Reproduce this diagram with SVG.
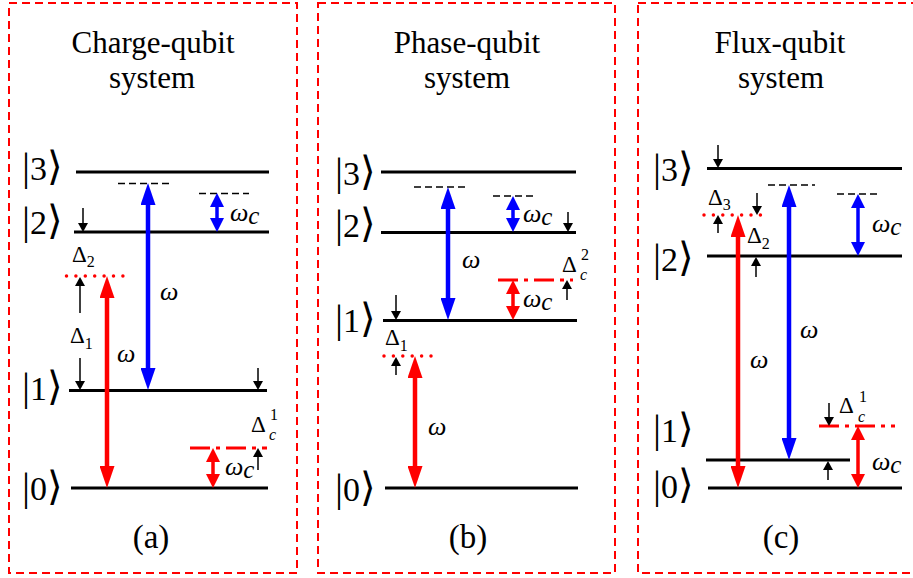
<svg xmlns="http://www.w3.org/2000/svg" width="913" height="578" viewBox="0 0 913 578">
<style>
.box{fill:none;stroke:#f00;stroke-width:2;stroke-dasharray:8 5}
.lvl{stroke:#000;stroke-width:3}
.vl{stroke:#000;stroke-width:1.5;stroke-dasharray:7 4}
.dot{stroke:#f00;stroke-width:3.5;stroke-dasharray:0 9.4;stroke-linecap:round}
.dd{stroke:#f00;stroke-width:3;stroke-dasharray:20 6 4 6}
.ab{stroke:#00f;stroke-width:4.5;marker-start:url(#hb);marker-end:url(#hb)}
.ar{stroke:#f00;stroke-width:4.5;marker-start:url(#hr);marker-end:url(#hr)}
.sb{stroke:#00f;stroke-width:3.5;marker-start:url(#sb);marker-end:url(#sb)}
.sr{stroke:#f00;stroke-width:3.5;marker-start:url(#sr);marker-end:url(#sr)}
.k{stroke:#000;stroke-width:1.5;marker-end:url(#hk)}
.t{font-size:31px;text-anchor:middle}
.pl{font-size:33px;text-anchor:middle}
.ket{font-size:34px}
.kb{font-size:40px}
.w{font-size:26px;font-style:italic}
.wc{font-size:25px;font-style:italic}
.d{font-size:23px}
.sub{font-size:16px}
.sc{font-size:16px;font-style:italic}
</style>
<defs>
<marker id="hb" markerUnits="userSpaceOnUse" markerWidth="22" markerHeight="15" refX="4" refY="7.5" orient="auto-start-reverse"><path d="M0,0 L22,7.5 L0,15 z" fill="#00f"/></marker>
<marker id="hr" markerUnits="userSpaceOnUse" markerWidth="22" markerHeight="15" refX="4" refY="7.5" orient="auto-start-reverse"><path d="M0,0 L22,7.5 L0,15 z" fill="#f00"/></marker>
<marker id="sb" markerUnits="userSpaceOnUse" markerWidth="14" markerHeight="14" refX="3" refY="7" orient="auto-start-reverse"><path d="M0,0 L14,7 L0,14 z" fill="#00f"/></marker>
<marker id="sr" markerUnits="userSpaceOnUse" markerWidth="14" markerHeight="14" refX="3" refY="7" orient="auto-start-reverse"><path d="M0,0 L14,7 L0,14 z" fill="#f00"/></marker>
<marker id="hk" markerUnits="userSpaceOnUse" markerWidth="9" markerHeight="10" refX="2" refY="5" orient="auto"><path d="M0,0 L9,5 L0,10 z" fill="#000"/></marker>
</defs>
<rect width="913" height="578" fill="#fff"/>
<g font-family="'Liberation Serif', 'Times New Roman', 'DejaVu Serif', serif" fill="#000">

<g id="panel-a">
<rect class="box" x="9" y="3" width="288" height="570"/>
<text class="t" x="153" y="53">Charge-qubit</text>
<text class="t" x="152" y="88">system</text>
<text class="pl" x="151" y="548">(a)</text>
<g id="a-level3"><line class="lvl" x1="76" y1="172" x2="269" y2="172"/><text class="ket" x="22" y="180"><tspan class="kb">|</tspan>3<tspan class="kb">⟩</tspan></text></g>
<g id="a-level2"><line class="lvl" x1="74" y1="232" x2="269" y2="232"/><text class="ket" x="22" y="234"><tspan class="kb">|</tspan>2<tspan class="kb">⟩</tspan></text></g>
<g id="a-level1"><line class="lvl" x1="69" y1="390.5" x2="267" y2="390.5"/><text class="ket" x="22" y="400"><tspan class="kb">|</tspan>1<tspan class="kb">⟩</tspan></text></g>
<g id="a-level0"><line class="lvl" x1="71" y1="488" x2="268" y2="488"/><text class="ket" x="22" y="500"><tspan class="kb">|</tspan>0<tspan class="kb">⟩</tspan></text></g>
<g id="a-virtual">
<line class="vl" x1="118" y1="183.5" x2="173" y2="183.5"/>
<line class="vl" x1="199" y1="193.5" x2="249" y2="193.5"/>
<line class="dot" x1="66.5" y1="276" x2="124" y2="276"/>
<line class="dd" x1="190" y1="448" x2="267" y2="448"/>
</g>
<g id="a-labels">
<text class="w" x="230" y="221">ω<tspan class="wc" dy="3">c</tspan></text>
<text class="w" x="225" y="475">ω<tspan class="wc" dy="3">c</tspan></text>
<text class="w" x="160" y="300">ω</text>
<text class="w" x="117" y="362">ω</text>
<text class="d" x="72" y="262">Δ<tspan class="sub" dy="5">2</tspan></text>
<text class="d" x="70" y="343">Δ<tspan class="sub" dy="6">1</tspan></text>
<text class="d" x="251" y="432">Δ</text><text class="sub" x="270" y="420">1</text><text class="sc" x="269" y="440">c</text>
</g>
</g>

<g id="panel-b">
<rect class="box" x="318" y="3" width="297" height="570"/>
<text class="t" x="467" y="53">Phase-qubit</text>
<text class="t" x="467" y="88">system</text>
<text class="pl" x="468" y="548">(b)</text>
<g id="b-level3"><line class="lvl" x1="381" y1="172" x2="576" y2="172"/><text class="ket" x="335" y="185"><tspan class="kb">|</tspan>3<tspan class="kb">⟩</tspan></text></g>
<g id="b-level2"><line class="lvl" x1="381" y1="232.5" x2="576" y2="232.5"/><text class="ket" x="335" y="237"><tspan class="kb">|</tspan>2<tspan class="kb">⟩</tspan></text></g>
<g id="b-level1"><line class="lvl" x1="383" y1="320.5" x2="577" y2="320.5"/><text class="ket" x="335" y="332"><tspan class="kb">|</tspan>1<tspan class="kb">⟩</tspan></text></g>
<g id="b-level0"><line class="lvl" x1="385" y1="488" x2="578" y2="488"/><text class="ket" x="335" y="501"><tspan class="kb">|</tspan>0<tspan class="kb">⟩</tspan></text></g>
<g id="b-virtual">
<line class="vl" x1="414" y1="187" x2="469" y2="187"/>
<line class="vl" x1="493" y1="196" x2="537" y2="196"/>
<line class="dd" x1="498" y1="280" x2="573" y2="280"/>
<line class="dot" x1="384" y1="356" x2="432" y2="356"/>
</g>
<g id="b-labels">
<text class="w" x="523" y="222">ω<tspan class="wc" dy="3">c</tspan></text>
<text class="w" x="523" y="307">ω<tspan class="wc" dy="3">c</tspan></text>
<text class="w" x="462" y="268">ω</text>
<text class="w" x="428" y="435">ω</text>
<text class="d" x="562" y="272">Δ</text><text class="sub" x="581" y="260">2</text><text class="sc" x="580" y="280">c</text>
<text class="d" x="385" y="345">Δ<tspan class="sub" dy="6">1</tspan></text>
</g>
</g>

<g id="panel-c">
<rect class="box" x="638" y="3" width="280" height="570"/>
<text class="t" x="780" y="53">Flux-qubit</text>
<text class="t" x="781" y="88">system</text>
<text class="pl" x="781" y="548">(c)</text>
<g id="c-level3"><line class="lvl" x1="707" y1="168.5" x2="902" y2="168.5"/><text class="ket" x="653" y="181"><tspan class="kb">|</tspan>3<tspan class="kb">⟩</tspan></text></g>
<g id="c-level2"><line class="lvl" x1="707" y1="256" x2="902" y2="256"/><text class="ket" x="653" y="271"><tspan class="kb">|</tspan>2<tspan class="kb">⟩</tspan></text></g>
<g id="c-level1"><line class="lvl" x1="706" y1="460" x2="850" y2="460"/><text class="ket" x="653" y="442"><tspan class="kb">|</tspan>1<tspan class="kb">⟩</tspan></text></g>
<g id="c-level0"><line class="lvl" x1="708" y1="488" x2="902" y2="488"/><text class="ket" x="653" y="498"><tspan class="kb">|</tspan>0<tspan class="kb">⟩</tspan></text></g>
<g id="c-virtual">
<line class="vl" x1="768" y1="185" x2="815" y2="185"/>
<line class="vl" x1="837" y1="194" x2="880" y2="194"/>
<line class="dot" x1="704" y1="215" x2="762" y2="215"/>
<line class="dd" x1="819" y1="426" x2="895" y2="426"/>
</g>
<g id="c-labels">
<text class="w" x="872" y="232">ω<tspan class="wc" dy="3">c</tspan></text>
<text class="w" x="872" y="470">ω<tspan class="wc" dy="3">c</tspan></text>
<text class="w" x="800" y="338">ω</text>
<text class="w" x="750" y="368">ω</text>
<text class="d" x="708" y="205">Δ<tspan class="sub" dy="5">3</tspan></text>
<text class="d" x="747" y="243">Δ<tspan class="sub" dy="6">2</tspan></text>
<text class="d" x="839" y="413">Δ</text><text class="sub" x="859" y="402">1</text><text class="sc" x="858" y="422">c</text>
</g>
</g>

<g id="connectors">
<line class="ab" x1="148" y1="201" x2="148" y2="372"/>
<line class="ar" x1="107" y1="294" x2="107" y2="470"/>
<line class="sb" x1="217" y1="204" x2="217" y2="221"/>
<line class="sr" x1="213" y1="459" x2="213" y2="477"/>
<line class="k" x1="83" y1="208" x2="83" y2="225"/>
<line class="k" x1="80" y1="313" x2="80" y2="284"/>
<line class="k" x1="80" y1="358" x2="80" y2="383"/>
<line class="k" x1="258" y1="368" x2="258" y2="383"/>
<line class="k" x1="258" y1="470" x2="258" y2="455"/>

<line class="ab" x1="448" y1="205" x2="448" y2="302"/>
<line class="ar" x1="415" y1="374" x2="415" y2="470"/>
<line class="sb" x1="513" y1="207" x2="513" y2="221"/>
<line class="sr" x1="513" y1="291" x2="513" y2="309"/>
<line class="k" x1="568" y1="212" x2="568" y2="225"/>
<line class="k" x1="567" y1="300" x2="567" y2="287"/>
<line class="k" x1="396" y1="295" x2="396" y2="313"/>
<line class="k" x1="396" y1="375" x2="396" y2="364"/>

<line class="ab" x1="789" y1="203" x2="789" y2="442"/>
<line class="ar" x1="738" y1="233" x2="738" y2="470"/>
<line class="sb" x1="858" y1="205" x2="858" y2="245"/>
<line class="sr" x1="858" y1="437" x2="858" y2="477"/>
<line class="k" x1="718" y1="145" x2="718" y2="161"/>
<line class="k" x1="757" y1="193" x2="757" y2="208"/>
<line class="k" x1="718" y1="233" x2="718" y2="222"/>
<line class="k" x1="756" y1="277" x2="756" y2="264"/>
<line class="k" x1="829" y1="403" x2="829" y2="419"/>
<line class="k" x1="828" y1="480" x2="828" y2="468"/>
</g>
</g>
</svg>
